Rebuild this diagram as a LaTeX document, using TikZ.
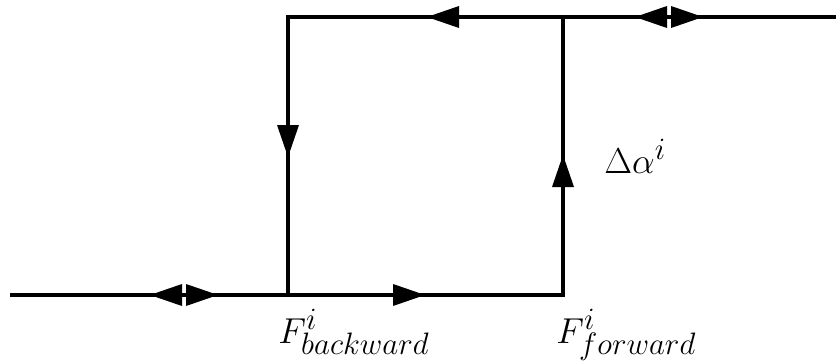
\documentclass[tikz,border=0pt]{standalone}
\usepackage{fix-cm}
\DeclareMathSizes{18}{18}{15.5}{12}
\begin{document}
\begin{tikzpicture}[x=0.5pt,y=-0.5pt,
  line/.style={line width=1.6pt},
  tri/.pic={\fill (0,0) -- (-32,-11) -- (-32,11) -- cycle;},
  lbl/.style={inner sep=0pt, anchor=base west, font=\fontsize{18}{22}\selectfont}]
\useasboundingbox (0,0) rectangle (836,364);
\coordinate (L) at (10,295);
\coordinate (A) at (288,295);
\coordinate (B) at (563,295);
\coordinate (C) at (563,17);
\coordinate (D) at (288,17);
\coordinate (R) at (836,17);
\draw[line] (L) -- (B) -- (C);
\draw[line] (R) -- (D) -- (A);
\pic[rotate=180] at (150,295) {tri};
\pic at (218,295) {tri};
\pic at (425,295) {tri};
\pic[rotate=90] at (563,155) {tri};
\pic[rotate=180] at (427,17) {tri};
\pic[rotate=180] at (635,17) {tri};
\pic at (703,17) {tri};
\pic[rotate=-90] at (288,157) {tri};
\node[lbl] (fb) at (278,343) {$F^i_{backward}$};
\node[lbl] (ff) at (556,343) {$F^i_{forward}$};
\node[lbl] (da) at (604,173) {$\Delta\alpha^i$};
\end{tikzpicture}
\end{document}
